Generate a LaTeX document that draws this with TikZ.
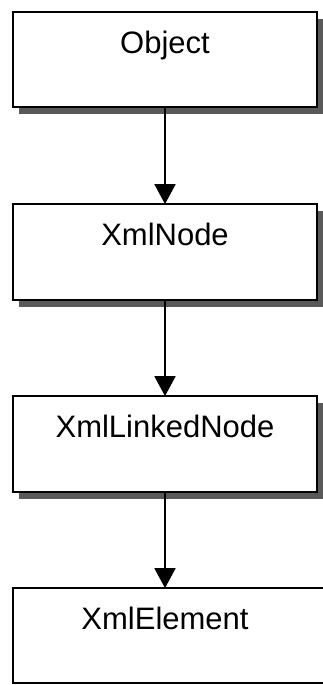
\documentclass[tikz,border=0pt]{standalone}
\usepackage{fontspec}
\setmainfont{Liberation Sans}
\usetikzlibrary{arrows.meta,shadows}
\begin{document}
\begin{tikzpicture}[x=1pt,y=1pt,
  classbox/.style={draw=black, line width=1.8pt, fill=white, rectangle,
    minimum width=304pt, minimum height=95pt, inner sep=0pt,
    text height=10pt, text depth=23pt,
    font=\fontsize{31}{37}\selectfont},
  withshadow/.style={drop shadow={shadow xshift=6pt, shadow yshift=-7pt,
    fill=black!65, opacity=1}},
  inherit/.style={draw=black, line width=1.8pt,
    -{Triangle[width=21pt,length=20pt]}, shorten >=-1pt}]
  \useasboundingbox (0,0) rectangle (322,-685);
  % class chain
  \node[classbox, withshadow] (obj)    at (165,-59.5) {Object};
  \node[classbox, withshadow, minimum height=96pt] (node)   at (165,-252)  {XmlNode};
  \node[classbox, withshadow, minimum height=96pt] (linked) at (165,-444)  {XmlLinkedNode};
  \node[classbox, minimum width=330pt] (elem) at (178,-635.5) {\hspace*{-26pt}XmlElement};
  % inheritance arrows
  \draw[inherit] (obj.south)    -- (node.north);
  \draw[inherit] (node.south)   -- (linked.north);
  \draw[inherit] (linked.south) -- (linked.south |- elem.north);
\end{tikzpicture}
\end{document}
